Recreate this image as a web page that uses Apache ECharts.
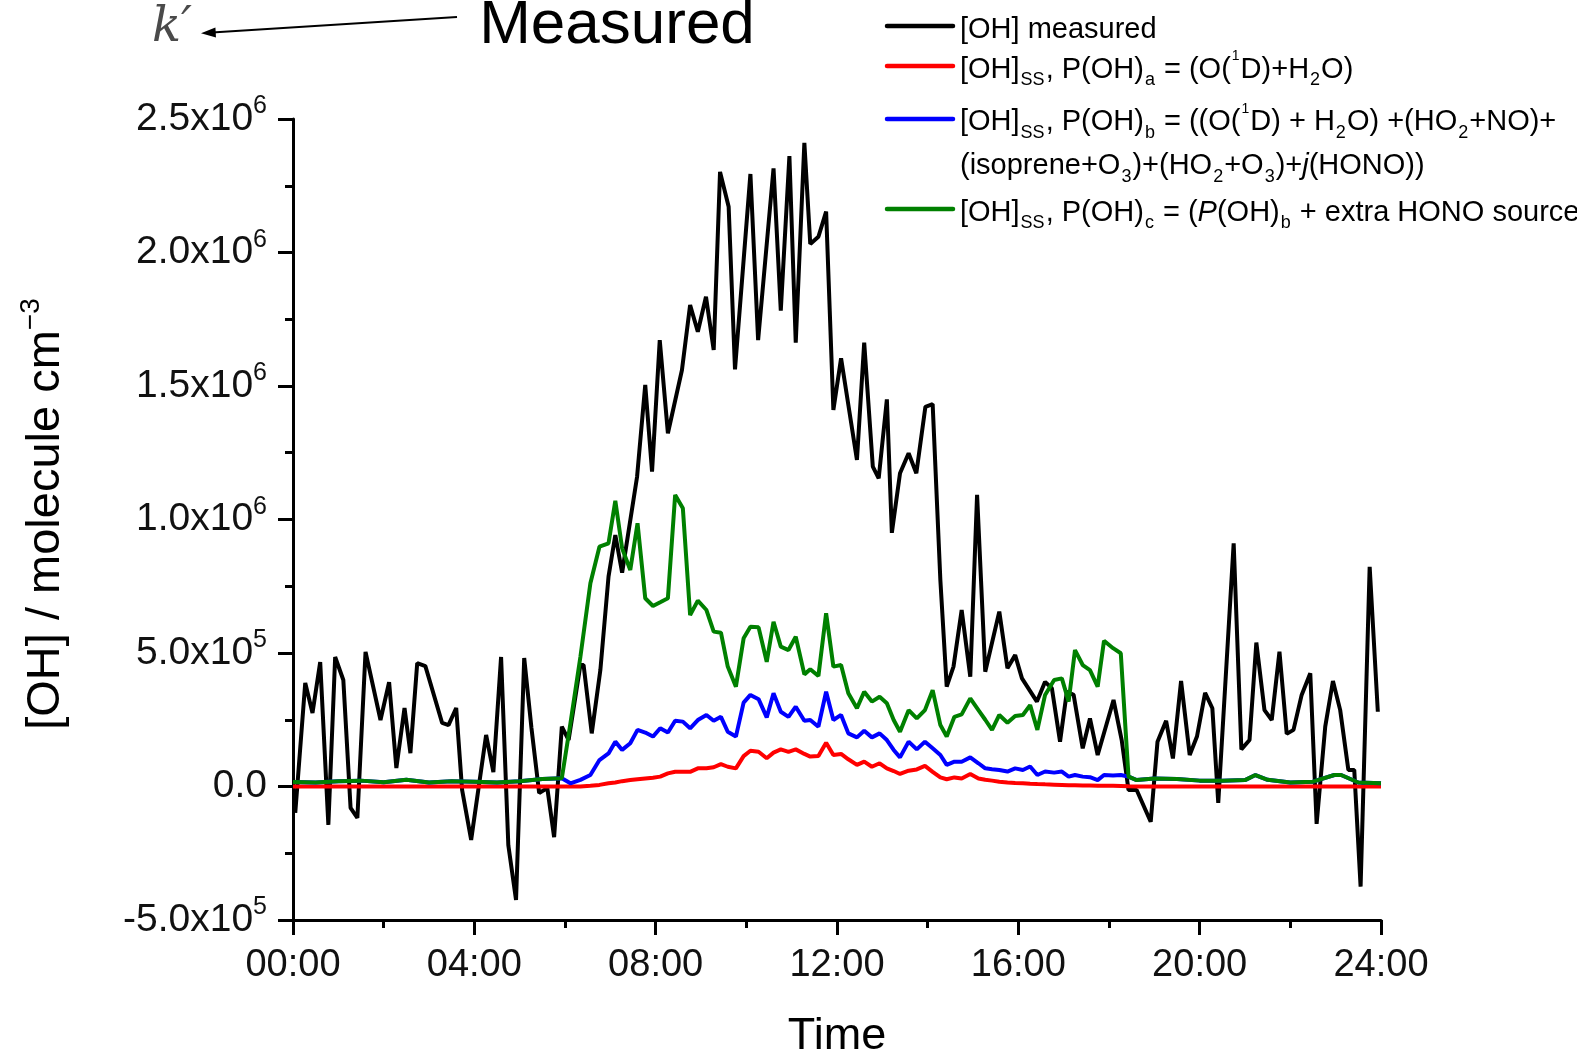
<!DOCTYPE html>
<html>
<head>
<meta charset="utf-8">
<script src="https://cdn.jsdelivr.net/npm/echarts@6/dist/echarts.min.js"></script>
<style>html,body{margin:0;padding:0;background:#fff}#c{width:1577px;height:1053px}</style>
</head>
<body>
<div id="c"></div>
<script>
// ---------- DATA (hours of day, molecule cm^-3) ----------
const measuredTime = [0.05,0.27,0.43,0.60,0.78,0.93,1.11,1.27,1.42,1.60,
  1.93,2.12,2.28,2.46,2.59,2.74,2.92,3.29,3.43,3.60,
  3.73,3.93,4.26,4.42,4.59,4.75,4.92,5.10,5.26,5.43,
  5.61,5.76,5.93,6.08,6.34,6.41,6.59,6.78,6.96,7.11,
  7.26,7.59,7.77,7.92,8.09,8.27,8.58,8.76,8.93,9.11,
  9.28,9.42,9.61,9.75,10.09,10.26,10.60,10.76,10.95,11.09,
  11.28,11.41,11.59,11.76,11.92,12.09,12.44,12.60,12.79,12.92,
  13.10,13.21,13.39,13.58,13.75,13.95,14.11,14.28,14.42,14.57,
  14.75,14.94,15.09,15.27,15.58,15.76,15.93,16.08,16.41,16.59,
  16.74,16.92,17.07,17.22,17.42,17.58,17.75,18.10,18.28,18.43,
  18.61,18.92,19.07,19.26,19.41,19.59,19.78,19.94,20.12,20.28,
  20.41,20.75,20.92,21.10,21.25,21.43,21.59,21.76,21.92,22.07,
  22.25,22.44,22.58,22.77,22.94,23.10,23.28,23.41,23.55,23.75,
  23.93];
const measuredOH = [-99e3,388e3,275e3,466e3,-144e3,485e3,399e3,-80e3,-118e3,504e3,
  249e3,391e3,69e3,294e3,125e3,462e3,451e3,238e3,230e3,294e3,
  -13e3,-200e3,193e3,54e3,485e3,-220e3,-425e3,481e3,219e3,-24e3,
  -6e3,-190e3,224e3,174e3,455e3,455e3,199e3,436e3,786e3,942e3,
  801e3,1160e3,1504e3,1179e3,1672e3,1323e3,1560e3,1803e3,1703e3,1834e3,
  1635e3,2302e3,2171e3,1562e3,2294e3,1672e3,2315e3,1782e3,2361e3,1662e3,
  2411e3,2032e3,2059e3,2153e3,1410e3,1604e3,1223e3,1662e3,1198e3,1154e3,
  1450e3,950e3,1173e3,1248e3,1173e3,1422e3,1432e3,773e3,374e3,449e3,
  661e3,411e3,1092e3,430e3,655e3,443e3,492e3,405e3,318e3,392e3,
  368e3,168e3,355e3,343e3,143e3,255e3,118e3,324e3,174e3,-13e3,
  -13e3,-132e3,168e3,246e3,105e3,395e3,118e3,187e3,351e3,293e3,
  -61e3,911e3,139e3,174e3,539e3,286e3,249e3,505e3,197e3,212e3,
  343e3,424e3,-140e3,224e3,395e3,286e3,62e3,62e3,-375e3,823e3,
  280e3];

const modelTime = [0,0.5,1,1.5,2,2.5,3,3.5,4,4.5,5,5.5,
  5.93,6.12,6.34,6.56,6.76,6.96,7.11,7.26,7.44,7.60,
  7.77,7.94,8.10,8.27,8.43,8.60,8.76,8.93,9.12,9.28,
  9.44,9.59,9.77,9.94,10.09,10.27,10.45,10.60,10.76,10.93,
  11.09,11.28,11.41,11.59,11.76,11.92,12.09,12.25,12.44,12.60,
  12.77,12.94,13.10,13.25,13.39,13.58,13.76,13.94,14.11,14.28,
  14.42,14.59,14.75,14.94,15.12,15.27,15.42,15.58,15.76,15.93,
  16.10,16.26,16.42,16.59,16.79,16.96,17.11,17.25,17.42,17.58,
  17.75,17.89,18.09,18.26,18.43,18.61,19.0,19.5,20.0,20.5,
  21.0,21.23,21.5,22.0,22.5,22.97,23.12,23.5,24.0];
// [OH]ss, P(OH)a
const ohSSa = [0,0,0,0,0,0,0,0,0,0,0,0,
  0,0,0,3e3,6e3,12e3,15e3,20e3,24e3,27e3,
  30e3,33e3,37e3,49e3,55e3,55e3,55e3,68e3,68e3,72e3,
  84e3,74e3,68e3,114e3,134e3,130e3,106e3,127e3,139e3,130e3,
  139e3,122e3,112e3,114e3,164e3,118e3,122e3,102e3,81e3,93e3,
  74e3,87e3,68e3,58e3,47e3,59e3,64e3,77e3,55e3,34e3,
  27e3,34e3,30e3,47e3,30e3,25e3,22e3,18e3,15e3,13e3,
  12e3,10e3,9e3,8e3,7e3,6e3,5e3,5e3,4e3,4e3,
  3e3,3e3,3e3,2e3,1e3,0,0,0,0,0,
  0,0,0,0,0,0,0,0,0];
// [OH]ss, P(OH)b
const ohSSb = [17e3,15e3,20e3,22e3,16e3,25e3,15e3,20e3,18e3,15e3,20e3,28e3,
  31e3,12e3,25e3,43e3,99e3,124e3,168e3,137e3,162e3,212e3,
  202e3,187e3,218e3,202e3,246e3,243e3,218e3,249e3,268e3,246e3,
  261e3,205e3,187e3,314e3,343e3,327e3,259e3,349e3,280e3,261e3,
  299e3,246e3,249e3,224e3,355e3,249e3,268e3,199e3,184e3,209e3,
  184e3,199e3,174e3,137e3,109e3,168e3,139e3,168e3,143e3,118e3,
  81e3,93e3,93e3,109e3,87e3,68e3,65e3,62e3,56e3,68e3,
  62e3,75e3,43e3,56e3,52e3,56e3,37e3,43e3,37e3,35e3,
  24e3,43e3,41e3,43e3,37e3,24e3,30e3,28e3,22e3,22e3,
  24e3,43e3,25e3,15e3,18e3,43e3,43e3,15e3,12e3];
// [OH]ss, P(OH)c
const ohSSc = [17e3,15e3,20e3,22e3,16e3,25e3,15e3,20e3,18e3,15e3,20e3,28e3,
  31e3,237e3,486e3,761e3,898e3,911e3,1070e3,892e3,811e3,986e3,
  705e3,676e3,690e3,705e3,1092e3,1042e3,642e3,696e3,661e3,580e3,
  576e3,449e3,374e3,555e3,598e3,596e3,467e3,617e3,524e3,511e3,
  561e3,420e3,439e3,414e3,649e3,449e3,455e3,349e3,293e3,355e3,
  318e3,336e3,312e3,249e3,205e3,286e3,255e3,286e3,361e3,230e3,
  187e3,261e3,270e3,330e3,286e3,250e3,212e3,268e3,239e3,264e3,
  268e3,305e3,212e3,343e3,399e3,405e3,318e3,511e3,455e3,436e3,
  374e3,546e3,518e3,499e3,37e3,24e3,30e3,28e3,22e3,22e3,
  24e3,43e3,25e3,15e3,18e3,43e3,43e3,15e3,12e3];

const seriesNames = ['[OH] measured', '[OH]ss, P(OH)a', '[OH]ss, P(OH)b', '[OH]ss, P(OH)c'];
const seriesColors = ['#000000', '#ff0000', '#0000ff', '#008000'];

// ---------- CHART ----------
const FONT = '"Liberation Sans", Arial, sans-serif';
const pairs = (t, v) => t.map((x, i) => [x, v[i]]);

function yFmt(v) {
  if (v === 0) return '{b|0.0}';
  const e = Math.floor(Math.log10(Math.abs(v)) + 1e-9);
  const m = v / Math.pow(10, e);
  return '{b|' + m.toFixed(1) + 'x10}{s|' + e + '}';
}
function xFmt(v) {
  return (v < 10 ? '0' : '') + v + ':00';
}

const legendRich = {
  n: {fontSize: 29, lineHeight: 40, fontFamily: FONT, fill: '#000'},
  i: {fontSize: 29, lineHeight: 40, fontFamily: FONT, fontStyle: 'italic'},
  sub: {fontSize: 18, lineHeight: 24, verticalAlign: 'bottom', fontFamily: FONT, padding: [0, 1, 0, 1]},
  sup: {fontSize: 14, lineHeight: 19, verticalAlign: 'top', fontFamily: FONT, padding: [0, 1, 0, 1]}
};
const legendRows = [
  {y: 26, ty: 29.5, color: seriesColors[0], text: '{n|[OH] measured}'},
  {y: 66, ty: 69.5, color: seriesColors[1], text: '{n|[OH]}{sub|SS}{n|, P(OH)}{sub|a}{n| = (O(}{sup|1}{n|D)+H}{sub|2}{n|O)}'},
  {y: 119, ty: 122, color: seriesColors[2], text: '{n|[OH]}{sub|SS}{n|, P(OH)}{sub|b}{n| = ((O(}{sup|1}{n|D) + H}{sub|2}{n|O) +(HO}{sub|2}{n|+NO)+}'},
  {y: null, ty: 166, color: null, text: '{n|(isoprene+O}{sub|3}{n|)+(HO}{sub|2}{n|+O}{sub|3}{n|)+}{i|j}{n|(HONO))}'},
  {y: 209, ty: 212.5, color: seriesColors[3], text: '{n|[OH]}{sub|SS}{n|, P(OH)}{sub|c}{n| = (}{i|P}{n|(OH)}{sub|b}{n| + extra HONO source}'}
];
const graphics = [];
legendRows.forEach(r => {
  if (r.color) {
    graphics.push({type: 'line', shape: {x1: 887, y1: r.y, x2: 953, y2: r.y},
      style: {stroke: r.color, lineWidth: 4.5, lineCap: 'round'}});
  }
  graphics.push({type: 'text', x: 960, y: r.ty,
    style: {text: r.text, rich: legendRich, align: 'left', verticalAlign: 'middle', fill: '#000'}});
});
// annotation: k' <- Measured
graphics.push({type: 'text', x: 172, y: 29,
  style: {text: 'k\u2032', fontFamily: '"DejaVu Serif", "Liberation Serif", serif', fontStyle: 'italic',
    fontSize: 48, fill: '#4a4a4a', align: 'center', verticalAlign: 'middle'}});
graphics.push({type: 'line', shape: {x1: 457, y1: 17, x2: 212, y2: 32.5},
  style: {stroke: '#000', lineWidth: 2}});
graphics.push({type: 'polygon', shape: {points: [[201, 33.2], [216, 37.6], [215.4, 27.4]]},
  style: {fill: '#000'}});
graphics.push({type: 'text', x: 617, y: 26,
  style: {text: 'Measured', fontFamily: FONT, fontSize: 62, fill: '#000', align: 'center', verticalAlign: 'middle'}});
// y axis title
graphics.push({type: 'text', x: 46, y: 514, rotation: Math.PI / 2,
  style: {text: '{t|[OH] / molecule cm}{s|\u22123}', align: 'center', verticalAlign: 'middle', fill: '#000',
    rich: {t: {fontSize: 47, lineHeight: 58, fontFamily: FONT},
           s: {fontSize: 28, lineHeight: 30, verticalAlign: 'top', fontFamily: FONT}}}});

const chart = echarts.init(document.getElementById('c'), null, {renderer: 'canvas'});
chart.setOption({
  animation: false,
  backgroundColor: '#fff',
  grid: {left: 293, right: 196, top: 119, bottom: 133, containLabel: false, outerBoundsMode: 'none'},
  xAxis: {
    type: 'value', min: 0, max: 24, interval: 4,
    name: 'Time', nameLocation: 'middle', nameGap: 94,
    nameTextStyle: {fontSize: 45, fontFamily: FONT, color: '#000'},
    axisLine: {show: true, onZero: false, lineStyle: {color: '#000', width: 3}},
    axisTick: {show: true, length: 15, lineStyle: {color: '#000', width: 3}},
    minorTick: {show: true, splitNumber: 2, length: 8, lineStyle: {color: '#000', width: 3}},
    splitLine: {show: false},
    axisLabel: {formatter: xFmt, fontSize: 38, fontFamily: FONT, color: '#111', margin: 27}
  },
  yAxis: {
    type: 'value', min: -5e5, max: 2.5e6, interval: 5e5,
    axisLine: {show: true, lineStyle: {color: '#000', width: 3}},
    axisTick: {show: true, length: 15, lineStyle: {color: '#000', width: 3}},
    minorTick: {show: true, splitNumber: 2, length: 8, lineStyle: {color: '#000', width: 3}},
    splitLine: {show: false},
    axisLabel: {formatter: yFmt, margin: 26, color: '#111',
      rich: {b: {fontSize: 39, lineHeight: 50, fontFamily: FONT, color: '#111'},
             s: {fontSize: 25, lineHeight: 25, verticalAlign: 'top', fontFamily: FONT, color: '#111'}}}
  },
  series: [
    {name: seriesNames[0], type: 'line', data: pairs(measuredTime, measuredOH), showSymbol: false,
      lineStyle: {color: seriesColors[0], width: 4}, itemStyle: {color: seriesColors[0]}, z: 2},
    {name: seriesNames[1], type: 'line', data: pairs(modelTime, ohSSa), showSymbol: false,
      lineStyle: {color: seriesColors[1], width: 4}, itemStyle: {color: seriesColors[1]}, z: 3},
    {name: seriesNames[2], type: 'line', data: pairs(modelTime, ohSSb), showSymbol: false,
      lineStyle: {color: seriesColors[2], width: 4}, itemStyle: {color: seriesColors[2]}, z: 4},
    {name: seriesNames[3], type: 'line', data: pairs(modelTime, ohSSc), showSymbol: false,
      lineStyle: {color: seriesColors[3], width: 4}, itemStyle: {color: seriesColors[3]}, z: 5}
  ],
  graphic: graphics
});
</script>
</body>
</html>
